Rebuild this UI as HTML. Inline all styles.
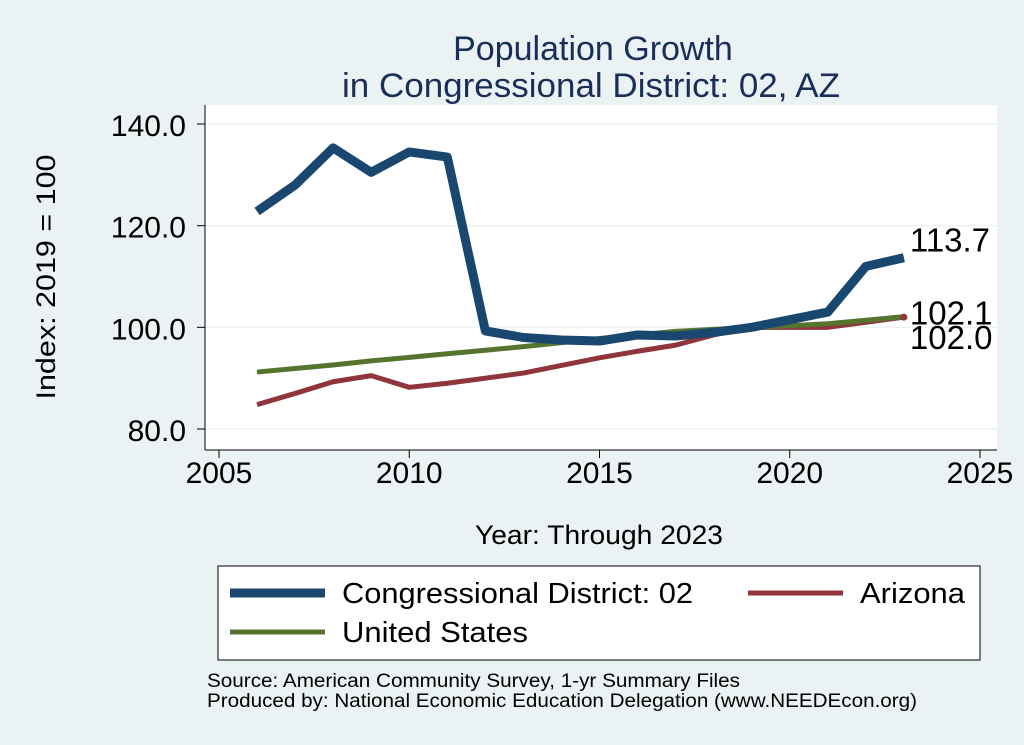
<!DOCTYPE html>
<html><head><meta charset="utf-8"><style>
body{margin:0;background:#eaf2f3;}
svg{display:block;font-family:"Liberation Sans",Arial,sans-serif;}
</style></head><body>
<svg id="c" width="1024" height="745">
<rect width="1024" height="745" fill="#eaf2f3"/>
<text x="593" y="60" text-anchor="middle" font-size="34" fill="#1a2e5a">Population Growth</text>
<text x="591" y="97" text-anchor="middle" font-size="34" fill="#1a2e5a" textLength="498" lengthAdjust="spacingAndGlyphs">in Congressional District: 02, AZ</text>
<rect x="205" y="105" width="792" height="345" fill="#fff"/>
<g id="grid"></g><g id="axes"></g><g id="series"></g>
<text x="0" y="0" transform="translate(55,277) rotate(-90)" text-anchor="middle" font-size="27" fill="#000" textLength="245" lengthAdjust="spacingAndGlyphs">Index: 2019 = 100</text>
<text x="475" y="544" font-size="27" fill="#000" textLength="248" lengthAdjust="spacingAndGlyphs">Year: Through 2023</text>
<g>
<rect x="218" y="566" width="762" height="94" fill="#fff" stroke="#000" stroke-width="1"/>
<line x1="230" y1="593" x2="325" y2="593" stroke="#1a476f" stroke-width="9"/>
<text x="342" y="603" font-size="29" textLength="351" lengthAdjust="spacingAndGlyphs">Congressional District: 02</text>
<line x1="748" y1="593" x2="843" y2="593" stroke="#90353b" stroke-width="5"/>
<text x="860" y="603" font-size="29" textLength="105" lengthAdjust="spacingAndGlyphs">Arizona</text>
<line x1="230" y1="632" x2="325" y2="632" stroke="#55752f" stroke-width="5"/>
<text x="342" y="642" font-size="29" textLength="186" lengthAdjust="spacingAndGlyphs">United States</text>
</g>
<text x="207" y="687" font-size="19" textLength="533" lengthAdjust="spacingAndGlyphs">Source: American Community Survey, 1-yr Summary Files</text>
<text x="207" y="707" font-size="19" textLength="710" lengthAdjust="spacingAndGlyphs">Produced by: National Economic Education Delegation (www.NEEDEcon.org)</text>
</svg>
<script>
const years=[2006,2007,2008,2009,2010,2011,2012,2013,2014,2015,2016,2017,2018,2019,2020,2021,2022,2023];
const district=[122.8,128,135.3,130.5,134.5,133.5,99.3,98,97.5,97.3,98.5,98.3,99,100,101.5,103,112,113.7];
const arizona=[84.8,87,89.3,90.5,88.2,89,90,91,92.5,94,95.3,96.5,98.5,100,100,100,101,102.0];
const unitedStates=[91.2,91.9,92.6,93.4,94.1,94.8,95.5,96.2,97.0,97.8,98.5,99.2,99.6,100,100.3,100.7,101.4,102.1];
const xTicks=[2005,2010,2015,2020,2025];
const yTicks=[80,100,120,140];
const yTickLabels=["80.0","100.0","120.0","140.0"];
const X=v=>219+(v-2005)*(980-219)/20;
const Y=v=>429-(v-80)*(429-124)/60;
const NS="http://www.w3.org/2000/svg";
function mk(tag,attrs,parent,txt){const e=document.createElementNS(NS,tag);for(const k in attrs)e.setAttribute(k,attrs[k]);if(txt!==undefined)e.textContent=txt;document.getElementById(parent).appendChild(e);return e;}
yTicks.forEach((t,i)=>{
 const g=mk('line',{x1:205,x2:997,y1:Y(t),y2:Y(t),stroke:'#eaf2f3','stroke-width':1.5},'grid');
 
 
 const tk=mk('line',{x1:197,x2:205,y1:Y(t),y2:Y(t),stroke:'#000','stroke-width':1},'axes');
 
 
 const l=mk('text',{x:186,y:Y(t)+12,'text-anchor':'end','font-size':30},'axes',yTickLabels[i]);
 
 
});
xTicks.forEach(t=>{
 const tk=mk('line',{x1:X(t),x2:X(t),y1:450,y2:458,stroke:'#000','stroke-width':1},'axes');
 
 
 const l=mk('text',{x:X(t),y:483,'text-anchor':'middle','font-size':30},'axes',String(t));
 
 
});
const ax=mk('line',{x1:205,x2:205,y1:105,y2:450,stroke:'#000','stroke-width':1},'axes');


const bx=mk('line',{x1:205,x2:997,y1:450,y2:450,stroke:'#000','stroke-width':1},'axes');


function line(vals,color,w,name){
 const p=mk('polyline',{points:vals.map((v,i)=>X(years[i])+','+Y(v)).join(' '),fill:'none',stroke:color,'stroke-width':w,'stroke-linejoin':'round'},'series');
 
 
}
line(arizona,'#90353b',5,'line-arizona');
line(unitedStates,'#55752f',5,'line-us');
line(district,'#1a476f',9,'line-district');
const n=years.length-1;
const dot=mk('circle',{cx:X(years[n]),cy:Y(arizona[n]),r:3.5,fill:'#90353b'},'series');


const lx=X(years[n])+6;
const l1=mk('text',{x:lx,y:Y(district[n])-6,'font-size':33},'series',district[n].toFixed(1));


const l2=mk('text',{x:lx,y:Y(unitedStates[n])+8,'font-size':33},'series',unitedStates[n].toFixed(1));


const l3=mk('text',{x:lx,y:Y(arizona[n])+32,'font-size':33},'series',arizona[n].toFixed(1));


</script>
</body></html>
